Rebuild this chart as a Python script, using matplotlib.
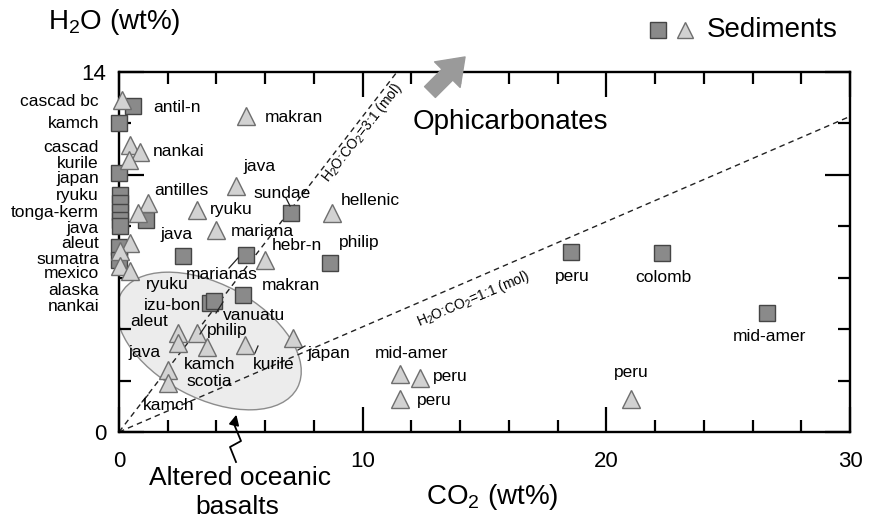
import matplotlib
matplotlib.use("Agg")
import matplotlib.pyplot as plt
from matplotlib.patches import Ellipse
from matplotlib.lines import Line2D
from matplotlib.transforms import IdentityTransform
import numpy as np

plt.rcParams['font.family'] = ['Liberation Sans', 'DejaVu Sans']
plt.rcParams['mathtext.fontset'] = 'custom'
plt.rcParams['mathtext.rm'] = 'Liberation Sans'
plt.rcParams['mathtext.it'] = 'Liberation Sans:italic'
plt.rcParams['mathtext.bf'] = 'Liberation Sans:bold'
plt.rcParams['mathtext.default'] = 'regular'

# ---------------- data ----------------
# squares (dark grey sediments)
sq_names = ["antil-n", "kamch", "japan", "ryuku", "ryuku2", "tonga-kerm", "tonga2", "java",
            "java-b", "aleut", "sumatra", "java-c", "marianas", "sundae", "philip",
            "makran", "izu-bon", "vanuatu", "peru", "colomb", "mid-amer"]
sq_x = [0.57, 0.0, 0.0, 0.05, 0.05, 0.05, 0.05, 0.05,
        1.1, 0.0, 0.0, 2.63, 5.2, 7.06, 8.66,
        5.1, 3.75, 3.9, 18.55, 22.3, 26.6]
sq_y = [12.68, 12.0, 10.08, 9.22, 8.91, 8.56, 8.25, 8.02,
        8.25, 7.2, 6.7, 6.85, 6.9, 8.52, 6.58,
        5.33, 5.0, 5.1, 7.0, 6.96, 4.63]

# triangles (light grey sediments)
tri_names = ["cascad bc", "cascad", "nankai", "kurile", "antilles", "tonga-kerm",
             "aleut", "sumatra", "mexico", "alaska", "makran", "java", "ryuku",
             "mariana", "hellenic", "hebr-n", "aleut2", "java2", "philip", "kamch",
             "kurile2", "japan", "scotia", "kamch2", "mid-amer", "peru", "peru2", "peru3"]
tri_x = [0.12, 0.45, 0.86, 0.41, 1.2, 0.8,
         0.45, 0.04, 0.04, 0.45, 5.2, 4.8, 3.2,
         4.0, 8.74, 6.0, 2.42, 2.42, 3.2, 3.61,
         5.17, 7.14, 2.01, 2.01, 11.53, 12.35, 11.53, 21.0]
tri_y = [12.9, 11.17, 10.9, 10.58, 8.9, 8.5,
         7.35, 7.04, 6.46, 6.26, 12.3, 9.57, 8.64,
         7.86, 8.52, 6.7, 3.85, 3.46, 3.85, 3.31,
         3.39, 3.66, 2.41, 1.9, 2.26, 2.1, 1.28, 1.28]

# molar ratio lines H2O:CO2 (wt ratio = n * 18/44)
ratio_n = [3, 1]
x_ticks = [0, 10, 20, 30]
y_ticklabels = ["0", "14"]

# ---------------- figure ----------------
W, H = 873, 520
fig = plt.figure(figsize=(W / 100, H / 100), dpi=100)
ax_l, ax_r, ax_t, ax_b = 119, 850, 72, 432
ax = fig.add_axes([ax_l / W, 1 - ax_b / H, (ax_r - ax_l) / W, (ax_b - ax_t) / H])
ax.set_xlim(0, 30)
ax.set_ylim(0, 14)

def P(px, py):
    """image pixel -> data coords (for text layout)"""
    return ((px - ax_l) / (ax_r - ax_l) * 30, (ax_b - py) / (ax_b - ax_t) * 14)

# ellipse (altered oceanic basalts) in display pixels
ell = Ellipse((209, H - 341), 200, 114, angle=-28, facecolor="#ececec",
              edgecolor="#8c8c8c", lw=1.0, transform=IdentityTransform(), zorder=1)
ax.add_artist(ell)

# ratio lines
xs = np.array([0, 30])
for n in ratio_n:
    ax.plot(xs, xs * n * 18 / 44, ls=(0, (4, 3)), color="#222222", lw=1.0, zorder=2)

# markers
ax.plot(sq_x, sq_y, ls="none", marker="s", ms=11.5, mfc="#8a8a8a", mec="#454545",
        mew=1.0, zorder=4, clip_on=False)
ax.plot(tri_x, tri_y, ls="none", marker="^", ms=13, mfc="#d2d2d2", mec="#6e6e6e",
        mew=1.0, zorder=5, clip_on=False)

# line labels
x, y = P(362, 133)
ax.text(x, y, "H$_2$O:CO$_2$=3:1 (mol)", rotation=52, fontsize=10, ha="center",
        va="center", rotation_mode="anchor", zorder=6, clip_on=False)
x, y = P(473, 299)
ax.text(x, y, "H$_2$O:CO$_2$=1:1 (mol)", rotation=23, fontsize=10, ha="center",
        va="center", rotation_mode="anchor", zorder=6)

# left column labels
left_labels = [("cascad bc", 101), ("kamch", 124), ("cascad", 147), ("kurile", 163),
               ("japan", 178), ("ryuku", 195), ("tonga-kerm", 212), ("java", 228),
               ("aleut", 244), ("sumatra", 259), ("mexico", 273), ("alaska", 290),
               ("nankai", 306)]
for t, py in left_labels:
    x, y = P(99, py)
    ax.text(x, y, t, fontsize=12.5, ha="right", va="center", clip_on=False)

# other point labels (left edge px, center py)
labels = [("antil-n", 153, 107), ("makran", 265, 117), ("nankai", 153, 152),
          ("java", 243, 167), ("antilles", 154, 190), ("sundae", 253, 193),
          ("hellenic", 341, 200), ("ryuku", 210, 209), ("mariana", 231, 231),
          ("java", 160, 235), ("hebr-n", 272, 246), ("philip", 339, 243),
          ("marianas", 186, 274), ("makran", 262, 286), ("ryuku", 146, 285),
          ("izu-bon", 144, 305), ("vanuatu", 223, 315), ("aleut", 130, 322),
          ("philip", 207, 330), ("java", 128, 352), ("japan", 307, 353),
          ("kamch", 184, 364), ("kurile", 253, 364), ("scotia", 186, 382),
          ("kamch", 143, 406), ("mid-amer", 375, 353), ("peru", 433, 376),
          ("peru", 417, 401), ("peru", 555, 276), ("colomb", 635, 277),
          ("mid-amer", 733, 336), ("peru", 614, 373)]
for t, px, py in labels:
    x, y = P(px, py)
    ax.text(x, y, t, fontsize=12.5, ha="left", va="center", zorder=7)

# small leader strokes
leaders = [((286, 198), (290, 206)), ((229, 268), (238, 258)), ((216, 313), (223, 302)),
           ((200, 334), (206, 325)), ((255, 353), (258, 346)), ((298, 350), (305, 346)),
           ((142, 402), (148, 395))]
for (a, b) in leaders:
    x0, y0 = P(*a); x1, y1 = P(*b)
    ax.plot([x0, x1], [y0, y1], color="#222222", lw=0.9, zorder=6, clip_on=False)

# axes styling
for s in ax.spines.values():
    s.set_linewidth(1.7)
ax.set_xticks(x_ticks)
ax.set_xticklabels([str(v) for v in x_ticks], fontsize=16)
ax.set_xticks(np.arange(2, 30, 2), minor=True)
ax.set_yticks([0, 10, 14])
ax.set_yticklabels([y_ticklabels[0], "", y_ticklabels[1]], fontsize=16)
ax.set_yticks(np.arange(2, 14, 2), minor=True)
ax.tick_params(which="both", direction="in", top=True, right=True, width=1.6, color="black")
ax.tick_params(which="major", length=18)
ax.tick_params(which="minor", length=8.5)
ax.tick_params(axis="x", which="major", pad=14)
ax.tick_params(axis="y", which="major", pad=9)

# axis titles
fig.text(48 / W, 1 - 22 / H, "H$_2$O (wt%)", fontsize=20, ha="left", va="center")
fig.text(492 / W, 1 - 497 / H, "CO$_2$ (wt%)", fontsize=20, ha="center", va="center")

# legend
fig.add_artist(Line2D([658 / W], [1 - 30 / H], marker="s", ms=11, mfc="#8a8a8a",
                      mec="#454545", mew=1.0, ls="none"))
fig.add_artist(Line2D([685 / W], [1 - 30 / H], marker="^", ms=12, mfc="#d2d2d2",
                      mec="#6e6e6e", mew=1.0, ls="none"))
fig.text(707 / W, 1 - 30 / H, "Sediments", fontsize=20, ha="left", va="center")

# Ophicarbonates
fig.text(413 / W, 1 - 122 / H, "Ophicarbonates", fontsize=20, ha="left", va="center")
ax.annotate("", xy=(467, H - 55), xytext=(428, H - 94), xycoords="figure pixels",
            textcoords="figure pixels",
            arrowprops=dict(arrowstyle="simple,head_length=0.9,head_width=1.3,tail_width=0.55",
                            fc="#9a9a9a", ec="#9a9a9a", mutation_scale=20))

# Altered oceanic basalts
fig.text(240 / W, 1 - 478 / H, "Altered oceanic", fontsize=19, ha="center", va="center")
fig.text(237 / W, 1 - 507 / H, "basalts", fontsize=19, ha="center", va="center")
zig = [(236, 462), (230, 447), (241, 441), (234, 424)]
fig.add_artist(Line2D([p[0] / W for p in zig], [1 - p[1] / H for p in zig],
                      color="black", lw=1.3))
ax.annotate("", xy=(237, H - 412), xytext=(234, H - 425), xycoords="figure pixels",
            textcoords="figure pixels",
            arrowprops=dict(arrowstyle="-|>,head_length=0.6,head_width=0.3",
                            fc="black", ec="black", lw=1.3))

fig.savefig("out.png", dpi=100)
